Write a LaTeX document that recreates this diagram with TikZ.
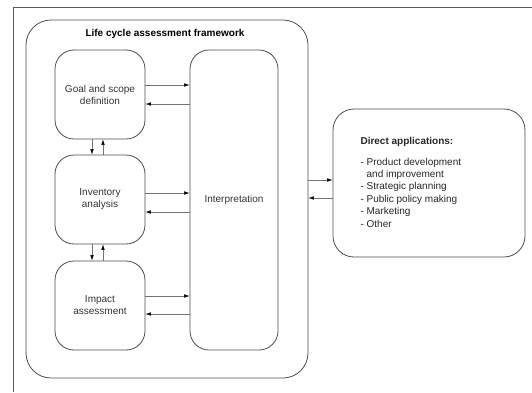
\documentclass[tikz,border=0pt]{standalone}
\usepackage{fontspec}
\setmainfont{Liberation Sans}
\usetikzlibrary{arrows.meta}

\tikzset{
	stagebox/.style={rectangle, draw=black!70, line width=0.8pt, rounded corners=19pt, align=center, text=black!80, font=\fontsize{10}{12}\selectfont},
	flow/.style={draw=black!55, line width=0.5pt, -{Latex[length=5.5pt,width=3.5pt,color=black]}}
}

\begin{document}
\begin{tikzpicture}[x=1pt,y=-1pt]
		\useasboundingbox (0,0) rectangle (532,392);
		\draw [black!65, line width=1pt] (13,392) -- (13,7) -- (532,7);
		
		\node (rectframe) [stagebox, rounded corners=25pt, minimum width=282pt, minimum height=358pt] at (167,199) {};
		\node (title) [font=\fontsize{10}{12}\selectfont\bfseries] at (165,34) {Life cycle assessment framework};
		
		\node (rectgoal) [stagebox, minimum width=90pt, minimum height=89pt] at (100,94.5) {Goal and scope\\definition};
		
		\node (rectinventory) [stagebox, minimum width=90pt, minimum height=89pt] at (100,199.5) {Inventory\\analysis};
		
		\node (rectimpact) [stagebox, minimum width=90pt, minimum height=89pt] at (100,305.5) {Impact\\assessment};
		
		\node (rectinterp) [stagebox, minimum width=88pt, minimum height=300pt] at (234,200) {Interpretation};
		
		\node (rectdirect) [stagebox, rounded corners=21pt, minimum width=192pt, minimum height=148pt] at (429,183) {};
		\node (applist) [anchor=north west, align=left, text=black!85, font=\fontsize{10}{12.4}\selectfont] at (357,134) {\textbf{Direct applications:}\\[8pt]
			- Product development\\
			\phantom{- }and improvement\\
			- Strategic planning\\
			- Public policy making\\
			- Marketing\\
			- Other};
		
		\draw [flow] (rectgoal.east |- 0,85) -- (rectinterp.west |- 0,85);
		\draw [flow] (rectinterp.west |- 0,104) -- (rectgoal.east |- 0,104);
		\draw [flow] (rectinventory.east |- 0,193) -- (rectinterp.west |- 0,193);
		\draw [flow] (rectinterp.west |- 0,212) -- (rectinventory.east |- 0,212);
		\draw [flow] (rectimpact.east |- 0,296) -- (rectinterp.west |- 0,296);
		\draw [flow] (rectinterp.west |- 0,314) -- (rectimpact.east |- 0,314);
		
		\draw [flow] (rectgoal.south -| 92,0) -- (rectinventory.north -| 92,0);
		\draw [flow] (rectinventory.north -| 103,0) -- (rectgoal.south -| 103,0);
		\draw [flow] (rectinventory.south -| 92,0) -- (rectimpact.north -| 92,0);
		\draw [flow] (rectimpact.north -| 103,0) -- (rectinventory.south -| 103,0);
		
		\draw [flow] (rectframe.east |- 0,180) -- (rectdirect.west |- 0,180);
		\draw [flow] (rectdirect.west |- 0,198) -- (rectframe.east |- 0,198);
		
\end{tikzpicture}
\end{document}
